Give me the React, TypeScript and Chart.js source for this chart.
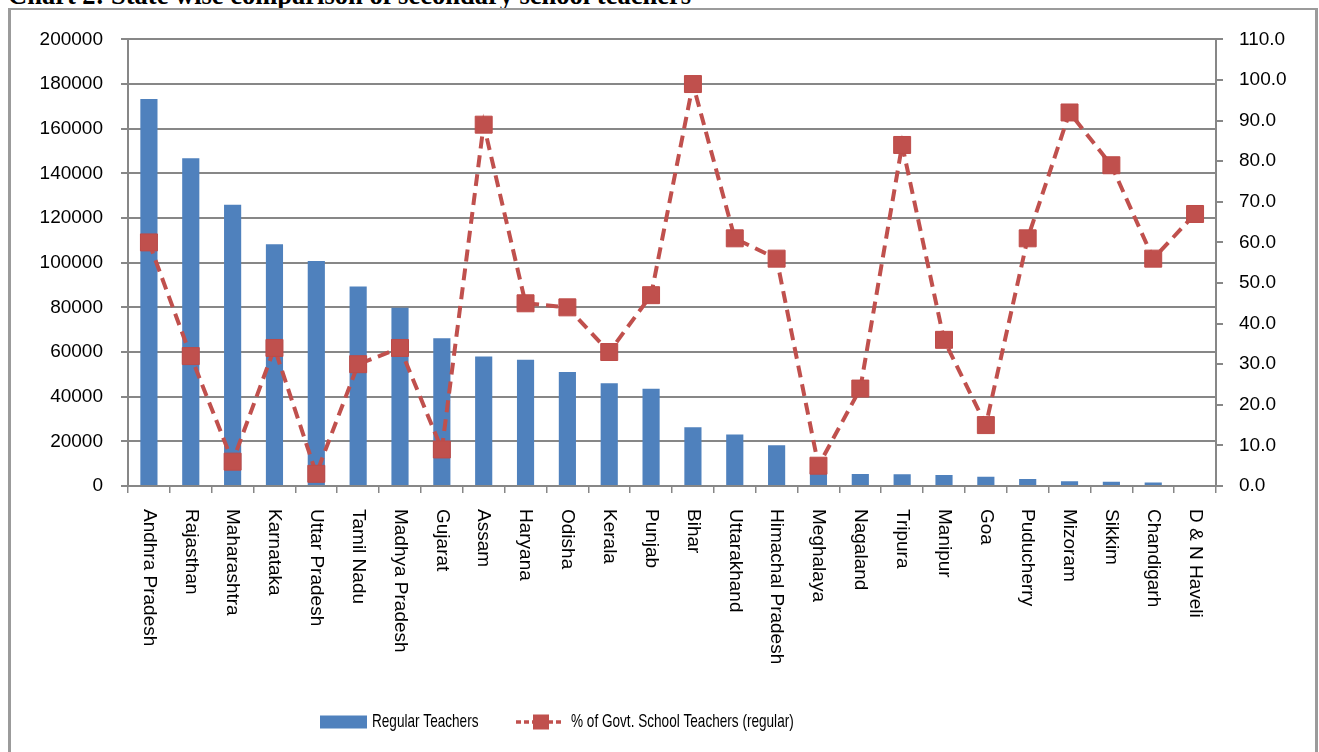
import React, { useEffect, useRef } from 'react';
import { Chart, registerables } from 'chart.js';

Chart.register(...registerables);

const FONT = "'Liberation Sans', Arial, sans-serif";

const states = [
  'Andhra Pradesh', 'Rajasthan', 'Maharashtra', 'Karnataka', 'Uttar Pradesh', 'Tamil Nadu',
  'Madhya Pradesh', 'Gujarat', 'Assam', 'Haryana', 'Odisha', 'Kerala', 'Punjab', 'Bihar',
  'Uttarakhand', 'Himachal Pradesh', 'Meghalaya', 'Nagaland', 'Tripura', 'Manipur', 'Goa',
  'Puducherry', 'Mizoram', 'Sikkim', 'Chandigarh', 'D & N Haveli',
];

const regularTeachers = [
  173300, 146800, 126000, 108300, 100800, 89300, 79800, 66200, 58000, 56500, 51000, 46000,
  43500, 26300, 23100, 18200, 6500, 5400, 5300, 4900, 4100, 3100, 2100, 1900, 1600, 0,
];

const govtSchoolPercent = [
  60, 32, 6, 34, 3, 30, 34, 9, 89, 45, 44, 33, 47, 99, 61, 56, 5, 24, 84, 36, 15, 61, 92, 79, 56, 67,
];

const leftAxisMax = 200000;
const leftAxisStep = 20000;
const rightAxisMax = 110;
const rightAxisStep = 10;

const seriesNames = ['Regular Teachers', '% of Govt. School Teachers (regular)'];
const titleText = 'Chart 2: State wise comparison of secondary school teachers';

const BLUE = '#4F81BD';
const RED = '#C0504D';
const GRID = '#878787';

const labelPlugin = {
  id: 'rotatedLabelsAndLegend',
  afterDraw(chart: any) {
    const { ctx, chartArea } = chart;
    const xs = chart.scales.x;
    ctx.save();
    ctx.fillStyle = '#000';
    ctx.font = `19px ${FONT}`;
    ctx.textAlign = 'left';
    ctx.textBaseline = 'middle';
    states.forEach((s, i) => {
      const x = xs.getPixelForValue(i);
      ctx.save();
      ctx.translate(x, chartArea.bottom + 23);
      ctx.rotate(Math.PI / 2);
      ctx.fillText(s, 0, 0);
      ctx.restore();
    });

    // legend
    const ly = chartArea.bottom + 236;
    ctx.fillStyle = BLUE;
    ctx.fillRect(309, ly - 6.5, 47, 13);

    ctx.fillStyle = '#000';
    ctx.font = `19px ${FONT}`;
    ctx.textBaseline = 'middle';
    ctx.save();
    ctx.translate(361, ly);
    ctx.scale(0.715, 1);
    ctx.fillText(seriesNames[0], 0, 0);
    ctx.restore();

    ctx.strokeStyle = RED;
    ctx.lineWidth = 3.5;
    ctx.setLineDash([5, 3]);
    ctx.beginPath();
    ctx.moveTo(505, ly);
    ctx.lineTo(552, ly);
    ctx.stroke();
    ctx.setLineDash([]);
    ctx.fillStyle = RED;
    ctx.fillRect(522, ly - 7.5, 16, 15);

    ctx.fillStyle = '#000';
    ctx.save();
    ctx.translate(560, ly);
    ctx.scale(0.715, 1);
    ctx.fillText(seriesNames[1], 0, 0);
    ctx.restore();

    ctx.restore();
  },
};

export default function App() {
  const ref = useRef<HTMLCanvasElement>(null);

  useEffect(() => {
    const chart = new Chart(ref.current as HTMLCanvasElement, {
      type: 'bar',
      data: {
        labels: states,
        datasets: [
          {
            type: 'bar',
            label: seriesNames[0],
            data: regularTeachers,
            backgroundColor: BLUE,
            borderWidth: 0,
            barPercentage: 0.41,
            categoryPercentage: 1,
            yAxisID: 'y',
            order: 2,
          },
          {
            type: 'line',
            label: seriesNames[1],
            data: govtSchoolPercent,
            borderColor: RED,
            borderWidth: 4,
            borderDash: [12, 7],
            pointStyle: 'rect',
            pointRadius: 12,
            pointBackgroundColor: RED,
            pointBorderColor: '#BE4B48',
            pointBorderWidth: 1,
            tension: 0,
            fill: false,
            yAxisID: 'y1',
            order: 1,
          } as any,
        ],
      },
      options: {
        responsive: false,
        maintainAspectRatio: false,
        devicePixelRatio: 1,
        animation: false,
        layout: { padding: { top: 26, left: 0, right: 0, bottom: 284 } },
        plugins: {
          legend: { display: false },
          tooltip: { enabled: false },
          title: { display: false },
        },
        scales: {
          x: {
            type: 'category',
            offset: true,
            afterFit: (scale: any) => {
              scale.height = 0;
            },
            ticks: { display: false },
            grid: {
              offset: true,
              drawOnChartArea: false,
              drawTicks: true,
              tickLength: 7,
              color: GRID,
              lineWidth: 1.5,
            },
            border: { display: true, color: GRID, width: 2 },
          },
          y: {
            position: 'left',
            min: 0,
            max: leftAxisMax,
            afterFit: (scale: any) => {
              scale.width = 117;
            },
            ticks: {
              stepSize: leftAxisStep,
              padding: 18,
              color: '#000',
              font: { family: FONT, size: 19 },
              callback: (v: any) => String(v),
            },
            grid: { color: GRID, lineWidth: 2, tickLength: 7, drawTicks: true },
            border: { display: true, color: GRID, width: 2 },
          },
          y1: {
            position: 'right',
            min: 0,
            max: rightAxisMax,
            afterFit: (scale: any) => {
              scale.width = 99;
            },
            ticks: {
              stepSize: rightAxisStep,
              padding: 16,
              color: '#000',
              font: { family: FONT, size: 19 },
              callback: (v: any) => Number(v).toFixed(1),
            },
            grid: { drawOnChartArea: false, color: GRID, lineWidth: 2, tickLength: 7, drawTicks: true },
            border: { display: true, color: GRID, width: 2 },
          },
        },
      },
      plugins: [labelPlugin],
    });
    return () => chart.destroy();
  }, []);

  return (
    <div
      style={{
        position: 'fixed',
        left: 0,
        top: 0,
        width: 1319,
        height: 752,
        overflow: 'hidden',
        background: '#fff',
      }}
    >
      <div
        style={{
          position: 'absolute',
          left: 8,
          top: -20,
          font: 'bold 26.5px "Liberation Serif", "Times New Roman", serif',
          lineHeight: '30px',
          whiteSpace: 'nowrap',
          color: '#000',
        }}
      >
        {titleText}
      </div>
      <div
        style={{
          position: 'absolute',
          left: 8,
          top: 8,
          width: 1304,
          height: 800,
          borderStyle: 'solid',
          borderColor: '#9b9b9b',
          borderWidth: '2px 3px 0 3px',
        }}
      >
        <canvas ref={ref} width={1304} height={760} style={{ display: 'block' }} />
      </div>
    </div>
  );
}
